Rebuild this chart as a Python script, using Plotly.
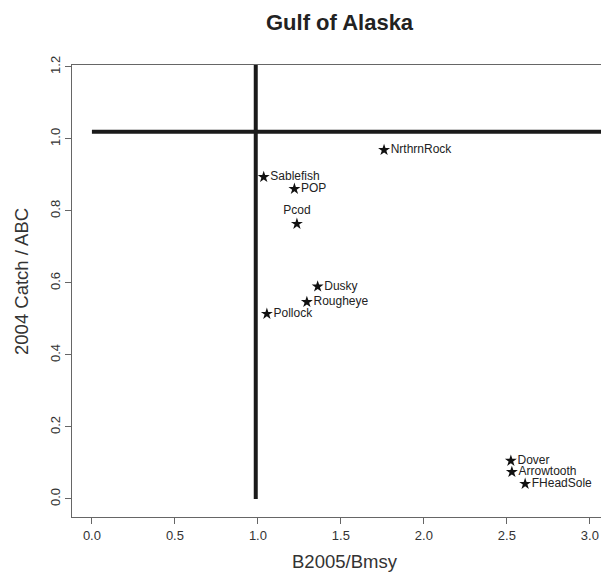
import plotly.graph_objects as go

species = ["NrthrnRock", "Sablefish", "POP", "Pcod", "Dusky", "Rougheye",
           "Pollock", "Dover", "Arrowtooth", "FHeadSole"]
b_ratio = [1.76, 1.035, 1.22, 1.235, 1.36, 1.295, 1.054, 2.524, 2.53, 2.61]
catch_abc = [0.969, 0.894, 0.861, 0.764, 0.590, 0.547, 0.514, 0.106, 0.075, 0.042]
label_pos = ["middle right", "middle right", "middle right", "top center",
             "middle right", "middle right", "middle right", "middle right",
             "middle right", "middle right"]

# reference lines
hline_x = [0.0, 3.3]
hline_y = [1.02, 1.02]
vline_x = [0.987, 0.987]
vline_y = [0.0, 1.3]

x_ticks = [0.0, 0.5, 1.0, 1.5, 2.0, 2.5, 3.0]
x_ticklabels = ["0.0", "0.5", "1.0", "1.5", "2.0", "2.5", "3.0"]
y_ticks = [0.0, 0.2, 0.4, 0.6, 0.8, 1.0, 1.2]
y_ticklabels = ["0.0", "0.2", "0.4", "0.6", "0.8", "1.0", "1.2"]

FONT = "Liberation Sans, Arial, Helvetica, sans-serif"

fig = go.Figure()
fig.add_trace(go.Scatter(x=hline_x, y=hline_y, mode="lines",
                         line=dict(color="#1a1a1a", width=4), hoverinfo="skip"))
fig.add_trace(go.Scatter(x=vline_x, y=vline_y, mode="lines",
                         line=dict(color="#1a1a1a", width=4), hoverinfo="skip"))
fig.add_trace(go.Scatter(
    x=b_ratio, y=catch_abc, mode="markers+text", text=species,
    textposition=label_pos,
    textfont=dict(family=FONT, size=12, color="#222"),
    marker=dict(symbol="star", size=9, color="#111"),
))

fig.update_layout(
    width=601, height=575,
    margin=dict(l=72, r=0, t=65, b=58),
    plot_bgcolor="white", paper_bgcolor="white",
    showlegend=False,
    font=dict(family=FONT, color="#333"),
    xaxis=dict(range=[-0.12, 3.067], tickvals=x_ticks, ticktext=x_ticklabels,
               showgrid=False, zeroline=False, showline=True, mirror=True,
               linecolor="#666", linewidth=1.2, ticks="outside", ticklen=6,
               tickcolor="#666", tickfont=dict(size=13, family=FONT, color="#333")),
    yaxis=dict(range=[-0.05, 1.205], tickvals=y_ticks, ticktext=y_ticklabels,
               showgrid=False, zeroline=False, showline=True, mirror=False,
               linecolor="#666", linewidth=1.2, ticks="outside", ticklen=6,
               tickcolor="#666", tickangle=-90,
               tickfont=dict(size=13, family=FONT, color="#333")),
    annotations=[
        dict(text="<b>Gulf of Alaska</b>", xref="paper", yref="paper",
             x=0.507, y=1, xanchor="center", yanchor="middle", yshift=43,
             showarrow=False, font=dict(size=22, family=FONT, color="#222")),
        dict(text="B2005/Bmsy", xref="paper", yref="paper", x=0.517, y=0,
             xanchor="center", yanchor="middle", yshift=-44, showarrow=False,
             font=dict(size=18.5, family=FONT, color="#333")),
        dict(text="2004 Catch / ABC", xref="paper", yref="paper", x=0, y=0.52,
             xanchor="center", yanchor="middle", xshift=-50, textangle=-90,
             showarrow=False, font=dict(size=18.5, family=FONT, color="#333")),
    ],
)

fig.write_html("out.html")
